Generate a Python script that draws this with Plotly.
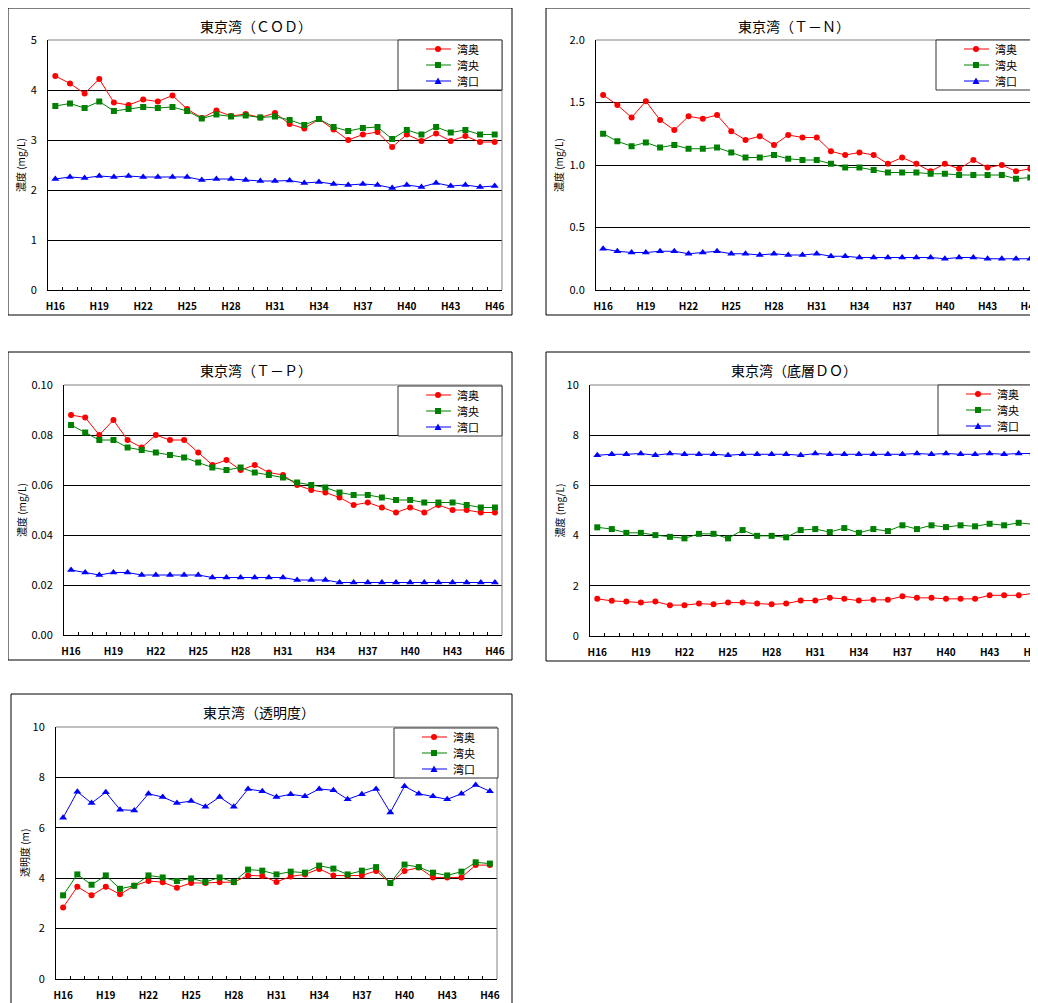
import plotly.graph_objects as go

# the page body has an 8px margin, so the figure is a bit smaller and
# all positions below are given in window pixels then shifted
OFF = 8
W, H = 1038 - OFF, 1003 - OFF
FONT = "Noto Sans CJK JP"
NARROW = "Liberation Sans Narrow, Noto Sans CJK JP"

years = [f"H{n}" for n in range(16, 47)]
tick_labels = [f"H{n}" for n in range(16, 47, 3)]
series_names = ["湾奥", "湾央", "湾口"]

# COD (mg/L)
cod_oku = [4.28, 4.13, 3.93, 4.22, 3.75, 3.70, 3.81, 3.77, 3.89, 3.62, 3.44, 3.59, 3.48, 3.52, 3.45, 3.54,
           3.32, 3.23, 3.42, 3.21, 3.00, 3.11, 3.16, 2.86, 3.11, 2.98, 3.13, 2.98, 3.08, 2.96, 2.96]
cod_ou = [3.68, 3.73, 3.64, 3.77, 3.58, 3.62, 3.66, 3.64, 3.66, 3.58, 3.43, 3.51, 3.47, 3.49, 3.45, 3.47,
          3.40, 3.30, 3.42, 3.26, 3.18, 3.24, 3.26, 3.02, 3.20, 3.11, 3.26, 3.15, 3.20, 3.11, 3.11]
cod_kou = [2.22, 2.26, 2.24, 2.28, 2.26, 2.28, 2.26, 2.26, 2.26, 2.26, 2.20, 2.22, 2.22, 2.20, 2.18, 2.18,
           2.19, 2.14, 2.16, 2.12, 2.10, 2.12, 2.10, 2.04, 2.10, 2.06, 2.14, 2.08, 2.10, 2.06, 2.08]

# T-N (mg/L)
tn_oku = [1.56, 1.48, 1.38, 1.51, 1.36, 1.28, 1.39, 1.37, 1.40, 1.27, 1.20, 1.23, 1.16, 1.24, 1.22, 1.22,
          1.11, 1.08, 1.10, 1.08, 1.01, 1.06, 1.01, 0.95, 1.01, 0.97, 1.04, 0.98, 1.00, 0.95, 0.97]
tn_ou = [1.25, 1.19, 1.15, 1.18, 1.14, 1.16, 1.13, 1.13, 1.14, 1.10, 1.06, 1.06, 1.08, 1.05, 1.04, 1.04,
         1.01, 0.98, 0.98, 0.96, 0.94, 0.94, 0.94, 0.93, 0.93, 0.92, 0.92, 0.92, 0.92, 0.89, 0.90]
tn_kou = [0.33, 0.31, 0.30, 0.30, 0.31, 0.31, 0.29, 0.30, 0.31, 0.29, 0.29, 0.28, 0.29, 0.28, 0.28, 0.29,
          0.27, 0.27, 0.26, 0.26, 0.26, 0.26, 0.26, 0.26, 0.25, 0.26, 0.26, 0.25, 0.25, 0.25, 0.25]

# T-P (mg/L)
tp_oku = [0.088, 0.087, 0.080, 0.086, 0.078, 0.075, 0.080, 0.078, 0.078, 0.073, 0.068, 0.070, 0.066, 0.068,
          0.065, 0.064, 0.060, 0.058, 0.057, 0.055, 0.052, 0.053, 0.051, 0.049, 0.051, 0.049, 0.052, 0.050,
          0.050, 0.049, 0.049]
tp_ou = [0.084, 0.081, 0.078, 0.078, 0.075, 0.074, 0.073, 0.072, 0.071, 0.069, 0.067, 0.066, 0.067, 0.065,
         0.064, 0.063, 0.061, 0.060, 0.059, 0.057, 0.056, 0.056, 0.055, 0.054, 0.054, 0.053, 0.053, 0.053,
         0.052, 0.051, 0.051]
tp_kou = [0.026, 0.025, 0.024, 0.025, 0.025, 0.024, 0.024, 0.024, 0.024, 0.024, 0.023, 0.023, 0.023, 0.023,
          0.023, 0.023, 0.022, 0.022, 0.022, 0.021, 0.021, 0.021, 0.021, 0.021, 0.021, 0.021, 0.021, 0.021,
          0.021, 0.021, 0.021]

# 底層DO (mg/L)
do_oku = [1.48, 1.40, 1.37, 1.33, 1.37, 1.23, 1.23, 1.29, 1.26, 1.33, 1.33, 1.29, 1.26, 1.29, 1.41, 1.41,
          1.52, 1.48, 1.41, 1.44, 1.44, 1.58, 1.52, 1.52, 1.48, 1.48, 1.48, 1.62, 1.62, 1.62, 1.70]
do_ou = [4.33, 4.26, 4.11, 4.11, 4.02, 3.95, 3.89, 4.07, 4.07, 3.89, 4.22, 3.99, 3.99, 3.93, 4.22, 4.26,
         4.14, 4.30, 4.11, 4.26, 4.18, 4.41, 4.26, 4.41, 4.34, 4.41, 4.37, 4.47, 4.41, 4.51, 4.45]
do_kou = [7.20, 7.24, 7.24, 7.27, 7.20, 7.27, 7.24, 7.24, 7.24, 7.20, 7.24, 7.24, 7.24, 7.24, 7.20, 7.27,
          7.24, 7.24, 7.24, 7.24, 7.24, 7.24, 7.27, 7.24, 7.27, 7.24, 7.24, 7.27, 7.24, 7.27, 7.27]

# 透明度 (m)
tr_oku = [2.84, 3.66, 3.32, 3.66, 3.36, 3.70, 3.89, 3.84, 3.62, 3.81, 3.81, 3.84, 3.84, 4.11, 4.09, 3.85,
          4.07, 4.15, 4.37, 4.11, 4.10, 4.11, 4.29, 3.81, 4.29, 4.42, 4.03, 4.03, 4.03, 4.52, 4.52]
tr_ou = [3.32, 4.15, 3.74, 4.11, 3.58, 3.70, 4.11, 4.03, 3.89, 3.99, 3.85, 4.03, 3.85, 4.34, 4.30, 4.15,
         4.26, 4.22, 4.50, 4.38, 4.15, 4.30, 4.44, 3.81, 4.54, 4.44, 4.22, 4.11, 4.26, 4.63, 4.58]
tr_kou = [6.40, 7.43, 6.98, 7.41, 6.72, 6.69, 7.35, 7.22, 6.98, 7.06, 6.84, 7.22, 6.84, 7.54, 7.45, 7.22,
          7.33, 7.25, 7.54, 7.49, 7.13, 7.33, 7.54, 6.61, 7.65, 7.35, 7.25, 7.13, 7.35, 7.70, 7.45]

colors = ["#FF0000", "#008000", "#0000FF"]
symbols = ["circle", "square", "triangle-up"]
msizes = [6, 6, 7]

# outer box, plot box (left, top, right, bottom in window px), legend top-left, x range end
panels = [
    dict(title="東京湾（ＣＯＤ）", ytitle="濃度 (mg/L)", data=(cod_oku, cod_ou, cod_kou),
         ymax=5, dtick=1, fmt="d", outer=(8, 8, 512, 315), plot=(48, 40, 502, 290),
         leg=(398, 40), xend=30.5),
    dict(title="東京湾（Ｔ－Ｎ）", ytitle="濃度 (mg/L)", data=(tn_oku, tn_ou, tn_kou),
         ymax=2, dtick=0.5, fmt=".1f", outer=(546, 8, 1060, 315), plot=(596, 40, 1038, 290),
         leg=(936, 40), xend=30.54),
    dict(title="東京湾（Ｔ－Ｐ）", ytitle="濃度 (mg/L)", data=(tp_oku, tp_ou, tp_kou),
         ymax=0.10, dtick=0.02, fmt=".2f", outer=(8, 352, 512, 660), plot=(64, 385, 502, 635),
         leg=(398, 386), xend=30.5),
    dict(title="東京湾（底層ＤＯ）", ytitle="濃度 (mg/L)", data=(do_oku, do_ou, do_kou),
         ymax=10, dtick=2, fmt="d", outer=(546, 352, 1060, 661), plot=(590, 385, 1038, 636),
         leg=(938, 385), xend=30.33),
    dict(title="東京湾（透明度）", ytitle="透明度 (m)", data=(tr_oku, tr_ou, tr_kou),
         ymax=10, dtick=2, fmt="d", outer=(11, 694, 512, 1030), plot=(56, 727, 497, 979),
         leg=(394, 728), xend=30.5),
]


def fx(x):
    return (x - OFF) / W


def fy(y):
    return 1 - (y - OFF) / H


xs = list(range(len(years)))
fig = go.Figure()
shapes = []
annotations = []
layout_axes = {}
n = len(panels)

for i, p in enumerate(panels, start=1):
    sfx = "" if i == 1 else str(i)
    xa, ya = "x" + sfx, "y" + sfx
    xlab = "x" + str(n + i)  # overlay axis that only carries the H-labels
    for name, vals, c, sym, ms in zip(series_names, p["data"], colors, symbols, msizes):
        fig.add_trace(go.Scatter(
            x=xs, y=vals, name=name, mode="lines+markers", showlegend=False,
            line=dict(color=c, width=1), marker=dict(symbol=sym, size=ms, color=c),
            xaxis=xa, yaxis=ya,
        ))
    fig.add_trace(go.Scatter(x=[], y=[], xaxis=xlab, yaxis=ya, showlegend=False, hoverinfo="skip"))

    l, t, r, b = p["plot"]
    xdom = [fx(l), fx(r)]
    xrng = [-0.5, p["xend"]]
    # tick marks between the categories (pointing into the plot)
    layout_axes["xaxis" + sfx] = dict(
        domain=xdom, range=xrng, anchor=ya,
        tickmode="linear", tick0=-0.5, dtick=1,
        ticks="inside", ticklen=3, tickcolor="black", tickwidth=1,
        showticklabels=False, showline=True, linecolor="black", linewidth=1,
        showgrid=False, zeroline=False,
    )
    # labels centred on every third category
    layout_axes["xaxis" + str(n + i)] = dict(
        domain=xdom, range=xrng, anchor=ya, overlaying=xa, side="bottom",
        tickmode="array", tickvals=xs[::3], ticktext=tick_labels,
        ticks="", showline=False, showgrid=False, zeroline=False,
        ticklabelstandoff=9, ticklabeloverflow="allow",
        tickfont=dict(size=10, color="black", family=NARROW, weight="bold"),
    )
    layout_axes["yaxis" + sfx] = dict(
        domain=[fy(b), fy(t)], range=[0, p["ymax"]], anchor=xa,
        dtick=p["dtick"], tick0=0, tickformat=p["fmt"],
        showgrid=True, gridcolor="black", gridwidth=1,
        showline=True, linecolor="black", linewidth=1, zeroline=False,
        ticks="", ticklabelstandoff=8,
        tickfont=dict(size=11, color="black", family=FONT),
    )

    # plot area top/right border
    shapes.append(dict(type="line", xref="paper", yref="paper", x0=fx(l), x1=fx(r), y0=fy(t), y1=fy(t),
                       line=dict(color="#808080", width=1)))
    shapes.append(dict(type="line", xref="paper", yref="paper", x0=fx(r), x1=fx(r), y0=fy(t), y1=fy(b),
                       line=dict(color="#808080", width=1)))

    # outer chart frame
    ol, ot, orr, ob = p["outer"]
    shapes.append(dict(type="rect", xref="paper", yref="paper", x0=fx(ol), x1=fx(orr), y0=fy(ot), y1=fy(ob),
                       line=dict(color="black", width=1), layer="below"))

    annotations.append(dict(text=p["title"], xref="paper", yref="paper", x=fx(ol + 248), y=fy(ot + 18),
                            showarrow=False, xanchor="center", yanchor="middle",
                            font=dict(size=14, color="black", family=FONT)))
    annotations.append(dict(text=p["ytitle"], xref="paper", yref="paper", x=fx(ol + 13), y=fy((t + b) / 2),
                            showarrow=False, textangle=-90, xanchor="center", yanchor="middle",
                            font=dict(size=10, color="black", family=FONT)))

    # legend box drawn by hand so its size matches the original
    lx, ly = p["leg"]
    shapes.append(dict(type="rect", xref="paper", yref="paper", x0=fx(lx), x1=fx(lx + 104),
                       y0=fy(ly), y1=fy(ly + 50), fillcolor="white",
                       line=dict(color="#333333", width=1)))
    for k, (name, c) in enumerate(zip(series_names, colors)):
        yy = ly + 9 + 16 * k
        mx = lx + 40
        shapes.append(dict(type="line", xref="paper", yref="paper", x0=fx(lx + 28), x1=fx(lx + 53),
                           y0=fy(yy), y1=fy(yy), line=dict(color=c, width=1)))
        if k == 0:
            shapes.append(dict(type="circle", xref="paper", yref="paper", x0=fx(mx - 3), x1=fx(mx + 3),
                               y0=fy(yy - 3), y1=fy(yy + 3), fillcolor=c, line=dict(color=c, width=0)))
        elif k == 1:
            shapes.append(dict(type="rect", xref="paper", yref="paper", x0=fx(mx - 3), x1=fx(mx + 3),
                               y0=fy(yy - 3), y1=fy(yy + 3), fillcolor=c, line=dict(color=c, width=0)))
        else:
            path = (f"M {fx(mx - 3.5)},{fy(yy + 3)} L {fx(mx + 3.5)},{fy(yy + 3)} "
                    f"L {fx(mx)},{fy(yy - 3.5)} Z")
            shapes.append(dict(type="path", xref="paper", yref="paper", path=path,
                               fillcolor=c, line=dict(color=c, width=0)))
        annotations.append(dict(text=name, xref="paper", yref="paper", x=fx(lx + 57), y=fy(yy),
                                showarrow=False, xanchor="left", yanchor="middle",
                                font=dict(size=11, color="black", family=FONT)))

fig.update_layout(
    width=W, height=H,
    margin=dict(l=0, r=0, t=0, b=0, autoexpand=False),
    paper_bgcolor="white", plot_bgcolor="white",
    font=dict(family=FONT, color="black"),
    shapes=shapes, annotations=annotations,
    **layout_axes,
)

fig.write_html("out.html")
